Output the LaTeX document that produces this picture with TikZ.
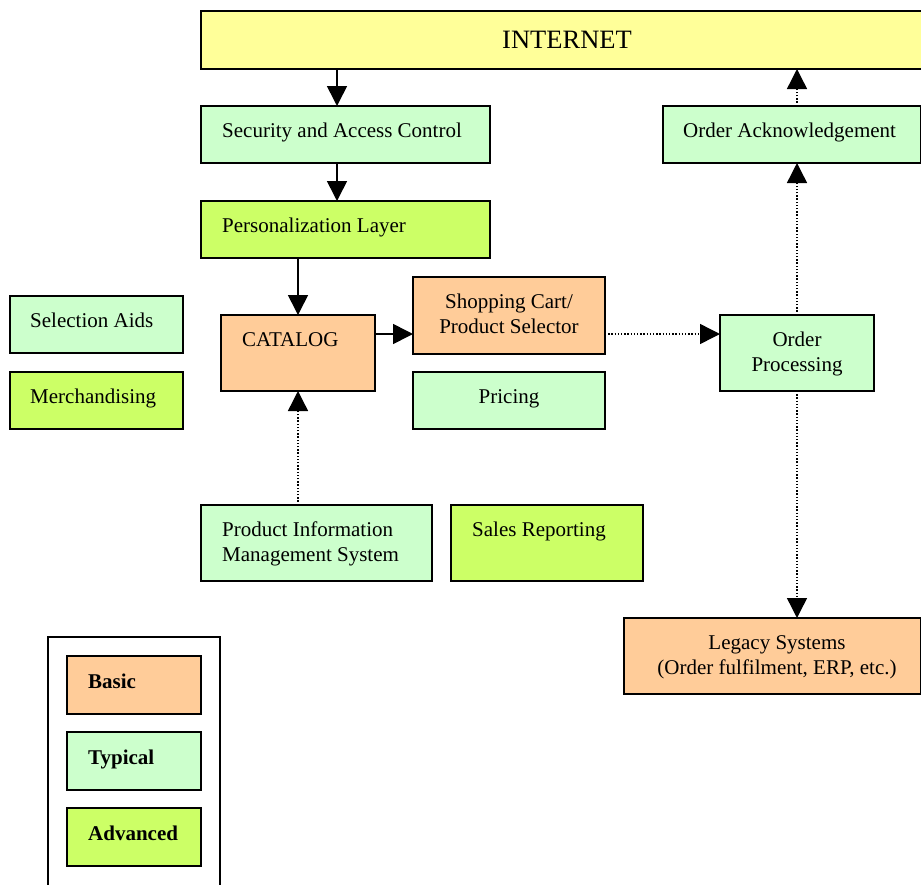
\documentclass[tikz,border=0pt]{standalone}
\usepackage{fontspec}
\setmainfont{Liberation Serif}
\usetikzlibrary{arrows.meta}
\definecolor{cyel}{HTML}{FFFF99}
\definecolor{cgrn}{HTML}{CCFFCC}
\definecolor{clime}{HTML}{CCFF66}
\definecolor{cpch}{HTML}{FFCC99}
\begin{document}
\begin{tikzpicture}[x=1pt,y=-1pt,
  box/.style={draw=black, line width=1.6pt, anchor=north west, inner sep=0pt, outer sep=0pt},
  lbl/.style={inner sep=0pt, anchor=base west, font=\fontsize{21}{25}\selectfont},
  clbl/.style={inner sep=0pt, anchor=base, font=\fontsize{21}{25}\selectfont},
  blbl/.style={inner sep=0pt, anchor=base west, font=\fontsize{21}{25}\selectfont\bfseries},
  sarr/.style={line width=1.6pt, -{Triangle[width=20pt,length=20pt]}},
  darr/.style={line width=1.4pt, dash pattern=on 1.4pt off 1.8pt, -{Triangle[width=20pt,length=20pt]}}]
\clip (0,0) rectangle (921,884);
% boxes
\node[box, fill=cyel, minimum width=722pt, minimum height=58pt] (internet) at (201,11) {};
\node[box, fill=cgrn, minimum width=289pt, minimum height=57pt] (sec) at (201,106) {};
\node[box, fill=clime, minimum width=289pt, minimum height=57pt] (pers) at (201,201) {};
\node[box, fill=cgrn, minimum width=173pt, minimum height=57pt] (sel) at (10,296) {};
\node[box, fill=clime, minimum width=173pt, minimum height=57pt] (merch) at (10,372) {};
\node[box, fill=cpch, minimum width=154pt, minimum height=76pt] (cat) at (221,315) {};
\node[box, fill=cpch, minimum width=192pt, minimum height=77pt] (cart) at (413,277) {};
\node[box, fill=cgrn, minimum width=192pt, minimum height=57pt] (price) at (413,372) {};
\node[box, fill=cgrn, minimum width=258pt, minimum height=57pt] (ack) at (663,106) {};
\node[box, fill=cgrn, minimum width=154pt, minimum height=76pt] (proc) at (720,315) {};
\node[box, fill=cgrn, minimum width=231pt, minimum height=76pt] (pims) at (201,505) {};
\node[box, fill=clime, minimum width=192pt, minimum height=76pt] (sales) at (451,505) {};
\node[box, fill=cpch, minimum width=297pt, minimum height=76pt] (legacy) at (624,618) {};
\node[box, minimum width=172pt, minimum height=280pt] (legend) at (48,637) {};
\node[box, fill=cpch, minimum width=134pt, minimum height=58pt] (basic) at (67,656) {};
\node[box, fill=cgrn, minimum width=134pt, minimum height=58pt] (typ) at (67,732) {};
\node[box, fill=clime, minimum width=134pt, minimum height=58pt] (adv) at (67,808) {};
% labels
\node[inner sep=0pt, anchor=base, font=\fontsize{26.5}{30}\selectfont] (internetT) at (567,48) {INTERNET};
\node[lbl] (secT) at (222,137) {Security and Access Control};
\node[lbl] (persT) at (222,232) {Personalization Layer};
\node[lbl] (selT) at (30,327) {Selection Aids};
\node[lbl] (merchT) at (30,403) {Merchandising};
\node[lbl] (catT) at (242,346) {CATALOG};
\node[clbl] (cartT1) at (509,308) {Shopping Cart/};
\node[clbl] (cartT2) at (509,333) {Product Selector};
\node[clbl] (priceT) at (509,403) {Pricing};
\node[lbl] (ackT) at (683,137) {Order Acknowledgement};
\node[clbl] (procT1) at (797,346) {Order};
\node[clbl] (procT2) at (797,371) {Processing};
\node[lbl] (pimsT1) at (222,536) {Product Information};
\node[lbl] (pimsT2) at (222,561) {Management System};
\node[lbl] (salesT) at (472,536) {Sales Reporting};
\node[clbl] (legacyT1) at (777,649) {Legacy Systems};
\node[clbl] (legacyT2) at (777,674) {(Order fulfilment, ERP, etc.)};
\node[blbl] (basicT) at (88,688) {Basic};
\node[blbl] (typT) at (88,764) {Typical};
\node[blbl] (advT) at (88,840) {Advanced};
% connector columns
\coordinate (xa) at (337,0);
\coordinate (xb) at (298,0);
\coordinate (xc) at (797,0);
\coordinate (ya) at (0,334);
% connectors
\draw[sarr] (internet.south -| xa) -- (sec.north -| xa);
\draw[sarr] (sec.south -| xa) -- (pers.north -| xa);
\draw[sarr] (pers.south -| xb) -- (cat.north -| xb);
\draw[sarr] (cat.east |- ya) -- (cart.west |- ya);
\draw[darr] (pims.north -| xb) -- (cat.south -| xb);
\draw[darr] (cart.east |- ya) -- (proc.west |- ya);
\draw[darr] (proc.north -| xc) -- (ack.south -| xc);
\draw[darr] (ack.north -| xc) -- (internet.south -| xc);
\draw[darr] (proc.south -| xc) -- (legacy.north -| xc);
\end{tikzpicture}
\end{document}
